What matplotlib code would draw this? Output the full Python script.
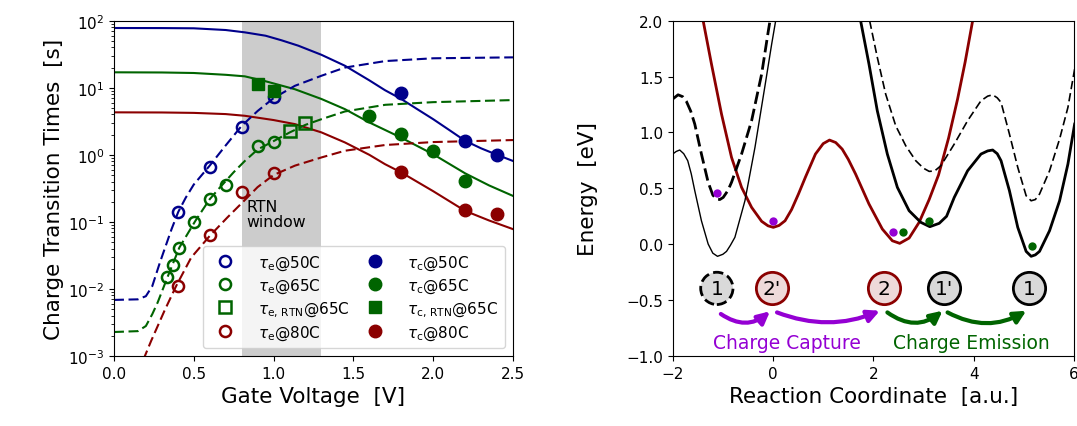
import numpy as np
import matplotlib
matplotlib.use("Agg")
import matplotlib.pyplot as plt

# ---------------- Left panel data ----------------
# measured points
V_te50 = [0.40, 0.60, 0.80, 1.00]
T_te50 = [0.141, 0.66, 2.6, 7.2]
V_tc50 = [1.80, 2.20, 2.40]
T_tc50 = [8.3, 1.58, 0.99]
V_te65 = [0.33, 0.37, 0.41, 0.50, 0.60, 0.70, 0.90, 1.00]
T_te65 = [0.0151, 0.0228, 0.0414, 0.101, 0.223, 0.352, 1.36, 1.53]
V_te65rtn = [1.10, 1.20]
T_te65rtn = [2.28, 2.97]
V_tc65rtn = [0.90, 1.00]
T_tc65rtn = [11.3, 8.8]
V_tc65 = [1.60, 1.80, 2.00, 2.20]
T_tc65 = [3.82, 2.03, 1.15, 0.41]
V_te80 = [0.40, 0.60, 0.80, 1.00]
T_te80 = [0.0111, 0.0632, 0.28, 0.53]
V_tc80 = [1.80, 2.20, 2.40]
T_tc80 = [0.56, 0.151, 0.133]

# model curves
Vf_tc50 = [0, 0.3, 0.5, 0.7, 0.82, 0.95, 1.05, 1.155, 1.3, 1.447, 1.6, 1.698, 1.8, 1.9, 2.0, 2.1, 2.2, 2.3, 2.4, 2.5]
Tf_tc50 = [77.8, 77.6, 77.0, 72.6, 67.0, 59.7, 51.0, 42.4, 31.0, 21.3, 12.9, 9.2, 6.8, 4.8, 3.4, 2.35, 1.62, 1.25, 1.0, 0.81]
Vf_tc65 = [0, 0.3, 0.5, 0.7, 0.82, 0.95, 1.134, 1.3, 1.447, 1.6, 1.8, 2.0, 2.2, 2.35, 2.5]
Tf_tc65 = [17.0, 16.9, 16.6, 15.6, 14.8, 12.5, 9.5, 6.8, 4.8, 3.04, 1.8, 1.02, 0.53, 0.35, 0.244]
Vf_tc80 = [0, 0.3, 0.5, 0.7, 0.82, 1.0, 1.134, 1.3, 1.447, 1.6, 1.698, 1.8, 2.0, 2.2, 2.35, 2.5]
Tf_tc80 = [4.3, 4.28, 4.22, 4.05, 3.82, 3.3, 2.87, 2.16, 1.53, 1.0, 0.726, 0.546, 0.287, 0.146, 0.105, 0.078]

Vf_te50 = [0, 0.15, 0.2, 0.24, 0.288, 0.361, 0.403, 0.45, 0.5, 0.6, 0.7, 0.8, 0.9, 1.0, 1.134, 1.3, 1.447, 1.7, 2.0, 2.5]
Tf_te50 = [0.00686, 0.0070, 0.0078, 0.011, 0.0248, 0.078, 0.141, 0.23, 0.36, 0.69, 1.38, 2.7, 4.5, 7.0, 10.7, 15.1, 20.0, 25.0, 27.5, 28.4]
Vf_te65 = [0, 0.15, 0.2, 0.24, 0.274, 0.337, 0.41, 0.51, 0.6, 0.664, 0.75, 0.82, 0.9, 1.0, 1.1, 1.2, 1.3, 1.447, 1.7, 2.0, 2.5]
Tf_te65 = [0.00228, 0.00235, 0.0028, 0.0042, 0.0063, 0.0153, 0.0415, 0.1035, 0.218, 0.326, 0.55, 0.81, 1.2, 1.6, 2.15, 2.8, 3.4, 4.43, 5.57, 6.1, 6.55]
Vf_te80 = [0.15, 0.19, 0.233, 0.316, 0.39, 0.484, 0.6, 0.71, 0.815, 0.9, 1.0, 1.134, 1.3, 1.447, 1.698, 2.0, 2.5]
Tf_te80 = [0.00055, 0.00095, 0.00168, 0.0047, 0.0111, 0.0294, 0.0618, 0.116, 0.206, 0.33, 0.5, 0.69, 0.914, 1.15, 1.40, 1.55, 1.66]

rtn_window = [0.8, 1.3]

# ---------------- Right panel data ----------------
xL_solid = [-2.0, -1.93, -1.86, -1.78, -1.70, -1.63, -1.56, -1.427, -1.293, -1.2, -1.107, -1.0, -0.927, -0.85, -0.76, -0.56, -0.36, -0.16, -0.027, 0.053]
yL_solid = [0.807, 0.83, 0.843, 0.81, 0.747, 0.63, 0.479, 0.21, 0.002, -0.08, -0.108, -0.09, -0.064, -0.01, 0.062, 0.389, 0.866, 1.418, 1.79, 2.0]
xL_dash = [-2.0, -1.893, -1.8, -1.727, -1.64, -1.56, -1.427, -1.293, -1.2, -1.127, -1.06, -0.993, -0.9, -0.827, -0.627, -0.427, -0.227, -0.093, -0.06]
yL_dash = [1.299, 1.337, 1.32, 1.278, 1.19, 1.075, 0.807, 0.554, 0.44, 0.404, 0.40, 0.419, 0.48, 0.554, 0.807, 1.105, 1.522, 1.91, 2.0]
x_red = [-1.393, -1.227, -1.027, -0.827, -0.627, -0.427, -0.227, -0.1, 0.006, 0.12, 0.24, 0.37, 0.507, 0.646, 0.846, 1.0, 1.126, 1.25, 1.379, 1.5, 1.646, 1.913, 2.179, 2.379, 2.526, 2.713, 2.913, 3.113, 3.3, 3.5, 3.68, 3.83, 3.98]
y_red = [2.0, 1.612, 1.165, 0.777, 0.509, 0.33, 0.205, 0.165, 0.151, 0.168, 0.21, 0.31, 0.449, 0.60, 0.807, 0.9, 0.932, 0.91, 0.851, 0.76, 0.628, 0.36, 0.136, 0.031, 0.008, 0.055, 0.196, 0.40, 0.62, 0.95, 1.3, 1.63, 2.0]
xR_solid = [1.746, 1.913, 2.079, 2.279, 2.479, 2.713, 2.946, 3.126, 3.313, 3.46, 3.613, 3.879, 4.146, 4.28, 4.379, 4.47, 4.546, 4.713, 4.879, 5.046, 5.146, 5.23, 5.313, 5.513, 5.713, 5.879, 6.013]
yR_solid = [2.0, 1.612, 1.194, 0.807, 0.509, 0.30, 0.196, 0.157, 0.187, 0.25, 0.419, 0.657, 0.807, 0.835, 0.843, 0.81, 0.747, 0.479, 0.151, -0.064, -0.108, -0.095, -0.064, 0.121, 0.389, 0.717, 1.075]
xR_dash = [1.926, 2.079, 2.246, 2.446, 2.646, 2.846, 3.0, 3.113, 3.22, 3.346, 3.613, 3.879, 4.146, 4.28, 4.379, 4.47, 4.546, 4.713, 4.879, 5.046, 5.146, 5.23, 5.313, 5.513, 5.713, 5.879, 6.013]
yR_dash = [2.0, 1.672, 1.343, 1.06, 0.881, 0.747, 0.68, 0.652, 0.655, 0.702, 0.896, 1.105, 1.284, 1.325, 1.337, 1.31, 1.269, 0.986, 0.688, 0.434, 0.389, 0.40, 0.449, 0.657, 0.941, 1.224, 1.567]

dots_purple_x = [-1.107, -0.008, 2.40]
dots_purple_y = [0.455, 0.205, 0.106]
dots_green_x = [2.60, 3.113, 5.166]
dots_green_y = [0.106, 0.208, -0.019]

state_labels = ["1", "2'", "2", "1'", "1"]
state_x = [-1.12, -0.02, 2.21, 3.41, 5.11]
state_y = -0.395

BLUE = "#00008b"
GREEN = "#006400"
RED = "#8b0000"
PURPLE = "#9400d3"
LABEL_FS = 15.5

fig = plt.figure(figsize=(10.77, 4.27), dpi=100)
ax1 = fig.add_axes([0.1058, 0.1639, 0.3705, 0.7853])
ax2 = fig.add_axes([0.6246, 0.1639, 0.3726, 0.7853])

# ---- left ----
ax1.axvspan(rtn_window[0], rtn_window[1], color="#cccccc", lw=0, zorder=0)
lw = 1.5
ax1.plot(Vf_tc50, Tf_tc50, "-", color=BLUE, lw=lw)
ax1.plot(Vf_tc65, Tf_tc65, "-", color=GREEN, lw=lw)
ax1.plot(Vf_tc80, Tf_tc80, "-", color=RED, lw=lw)
ax1.plot(Vf_te50, Tf_te50, "--", color=BLUE, lw=lw, dashes=(4.8, 2.2))
ax1.plot(Vf_te65, Tf_te65, "--", color=GREEN, lw=lw, dashes=(4.8, 2.2))
ax1.plot(Vf_te80, Tf_te80, "--", color=RED, lw=lw, dashes=(4.8, 2.2))

ms_o = 8
mew = 1.8
h1, = ax1.plot(V_te50, T_te50, "o", mfc="none", mec=BLUE, ms=ms_o, mew=mew, label=r"$\tau_\mathrm{e}$@50C")
h2, = ax1.plot(V_te65, T_te65, "o", mfc="none", mec=GREEN, ms=ms_o, mew=mew, label=r"$\tau_\mathrm{e}$@65C")
h3, = ax1.plot(V_te65rtn, T_te65rtn, "s", mfc="none", mec=GREEN, ms=ms_o, mew=mew, label=r"$\tau_\mathrm{e,\,RTN}$@65C")
h4, = ax1.plot(V_te80, T_te80, "o", mfc="none", mec=RED, ms=ms_o, mew=mew, label=r"$\tau_\mathrm{e}$@80C")
h5, = ax1.plot(V_tc50, T_tc50, "o", color=BLUE, ms=9, label=r"$\tau_\mathrm{c}$@50C")
h6, = ax1.plot(V_tc65, T_tc65, "o", color=GREEN, ms=9, label=r"$\tau_\mathrm{c}$@65C")
h7, = ax1.plot(V_tc65rtn, T_tc65rtn, "s", color=GREEN, ms=9, label=r"$\tau_\mathrm{c,\,RTN}$@65C")
h8, = ax1.plot(V_tc80, T_tc80, "o", color=RED, ms=9, label=r"$\tau_\mathrm{c}$@80C")

ax1.set_yscale("log")
ax1.set_xlim(0, 2.5)
ax1.set_ylim(1e-3, 1e2)
ax1.set_xticks([0, 0.5, 1.0, 1.5, 2.0, 2.5])
ax1.tick_params(labelsize=11)
ax1.set_xlabel("Gate Voltage  [V]", fontsize=LABEL_FS)
ax1.set_ylabel("Charge Transition Times  [s]", fontsize=LABEL_FS, labelpad=3)
ax1.text(0.83, 10**-0.66, "RTN\nwindow", fontsize=11.3, va="top", ha="left", linespacing=1.0)
ax1.legend(handles=[h1, h2, h3, h4, h5, h6, h7, h8], ncol=2, loc="lower right",
           fontsize=11, handletextpad=1.1, columnspacing=0.7, labelspacing=0.3,
           borderpad=0.45, handlelength=2.0)

# ---- right ----
ax2.plot(x_red, y_red, "-", color=RED, lw=2)
ax2.plot(xL_solid, yL_solid, "-", color="k", lw=1.0)
ax2.plot(xL_dash, yL_dash, "--", color="k", lw=2, dashes=(4.5, 1.8))
ax2.plot(xR_solid, yR_solid, "-", color="k", lw=2)
ax2.plot(xR_dash, yR_dash, "--", color="k", lw=1.2, dashes=(5, 2.4))
ax2.plot(dots_purple_x, dots_purple_y, "o", color=PURPLE, ms=6, mec="none")
ax2.plot(dots_green_x, dots_green_y, "o", color=GREEN, ms=6, mec="none")

faces = ["#d9d9d9", "#eed9d9", "#eed9d9", "#d9d9d9", "#d9d9d9"]
edges = ["k", RED, RED, "k", "k"]
styles = ["--", "-", "-", "-", "-"]
for lab, x, fc, ec, ls in zip(state_labels, state_x, faces, edges, styles):
    ax2.scatter([x], [state_y], s=540, facecolor=fc, edgecolor=ec, linewidths=2,
                linestyles=ls, zorder=5, clip_on=False)
    ax2.text(x, state_y, lab, ha="center", va="center", fontsize=14.5, zorder=6)

arrows = [((-1.04, -0.624), (-0.06, -0.60), PURPLE, 0.38),
          ((0.08, -0.61), (2.13, -0.595), PURPLE, 0.2),
          ((2.28, -0.61), (3.38, -0.595), GREEN, 0.38),
          ((3.48, -0.61), (5.05, -0.595), GREEN, 0.28)]
for (x0, y0), (x1, y1), c, rad in arrows:
    ax2.annotate("", xy=(x1, y1), xytext=(x0, y0),
                 arrowprops=dict(arrowstyle="-|>", color=c, lw=3, mutation_scale=18,
                                 shrinkA=0, shrinkB=0,
                                 connectionstyle=f"arc3,rad={rad}"))
ax2.text(0.27, -0.875, "Charge Capture", color=PURPLE, fontsize=13.5, ha="center", va="center")
ax2.text(3.95, -0.875, "Charge Emission", color=GREEN, fontsize=13.5, ha="center", va="center")

ax2.set_xlim(-2, 6)
ax2.set_ylim(-1, 2)
ax2.set_xticks([-2, 0, 2, 4, 6])
ax2.set_yticks([-1.0, -0.5, 0.0, 0.5, 1.0, 1.5, 2.0])
ax2.tick_params(labelsize=11)
ax2.set_xlabel("Reaction Coordinate  [a.u.]", fontsize=LABEL_FS)
ax2.set_ylabel("Energy  [eV]", fontsize=LABEL_FS, labelpad=20)

fig.savefig("out.png", dpi=100)
